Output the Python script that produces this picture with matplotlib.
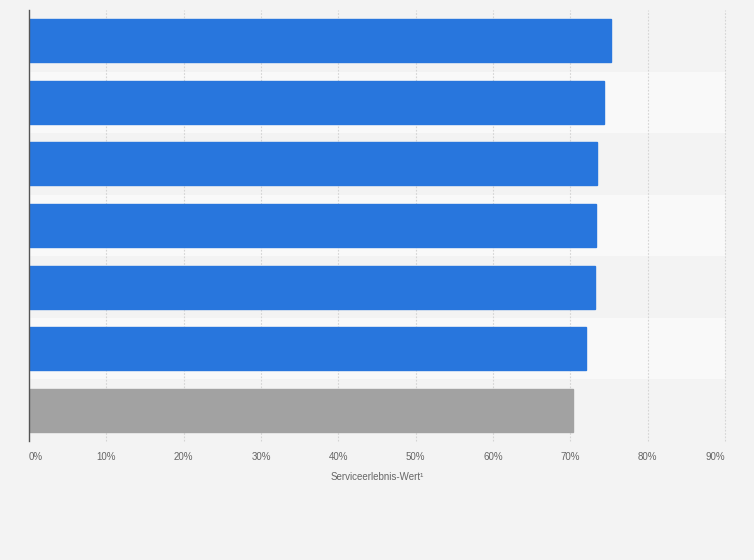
import numpy as np
import matplotlib.pyplot as plt

values = [75.3, 74.3, 73.5, 73.3, 73.2, 72.0, 70.4]
colors = ["#2876dd"] * 6 + ["#a2a2a2"]
ticks = [0, 10, 20, 30, 40, 50, 60, 70, 80, 90]
tick_labels = [f"{t}%" for t in ticks]
xlabel = "Serviceerlebnis-Wert¹"

plt.rcParams["font.family"] = ["Liberation Sans", "DejaVu Sans"]

fig = plt.figure(figsize=(7.54, 5.6), dpi=100, facecolor="#f3f3f3")
ax = fig.add_axes([29 / 754, 1 - 441 / 560, 696 / 754, 431 / 560])
ax.set_facecolor("#f3f3f3")

n = len(values)
y = np.arange(n)
for i in range(n):
    if i % 2 == 1:
        ax.axhspan(i - 0.5, i + 0.5, color="#f9f9f9", zorder=0, lw=0)

for t in ticks[1:]:
    ax.axvline(t, color="#d4d4d4", lw=0.8, ls=(0, (1.5, 1.5)), zorder=1,
               clip_on=False)

ax.barh(y, values, height=0.7, color=colors, edgecolor=colors, zorder=2)

ax.set_xlim(0, 90)
ax.set_ylim(n - 0.5, -0.5)
ax.set_yticks([])
ax.set_xticks(ticks)
ax.set_xticklabels(tick_labels, fontsize=7, color="#666666")
lbls = ax.get_xticklabels()
lbls[0].set_horizontalalignment("left")
lbls[-1].set_horizontalalignment("right")
ax.tick_params(axis="x", length=0, pad=8)
for s in ["top", "right", "bottom"]:
    ax.spines[s].set_visible(False)
ax.spines["left"].set_color("#555555")
ax.spines["left"].set_linewidth(1)
ax.set_xlabel(xlabel, fontsize=7, color="#666666", labelpad=7)

fig.savefig("out.png", dpi=100, facecolor=fig.get_facecolor())
